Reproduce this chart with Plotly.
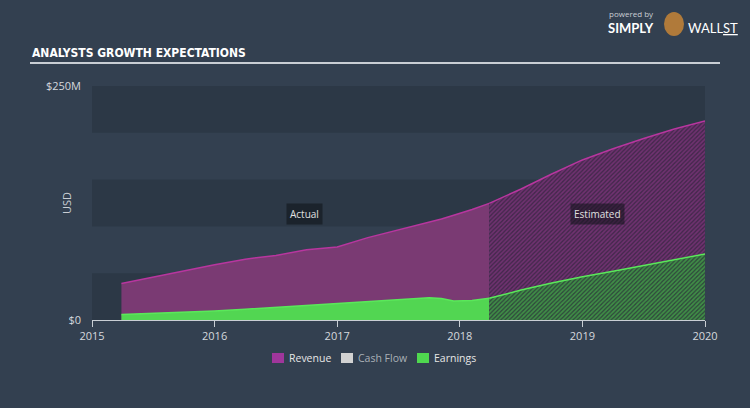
import plotly.graph_objects as go

# ---- data ----
act_x = [2015.24, 2015.5, 2015.75, 2016.0, 2016.25, 2016.5, 2016.75, 2017.0,
         2017.25, 2017.5, 2017.75, 2017.85, 2017.95, 2018.1, 2018.24]
act_revenue = [39, 46, 52, 59, 65, 69, 75, 78, 88, 96, 104, 108, 112, 118, 124.6]
act_earnings = [6, 7, 8, 9.6, 11.5, 13.5, 15.5, 17.8, 19.5, 21.5, 23.8, 23, 20.3, 20.8, 23.2]

est_x = [2018.24, 2018.5, 2018.75, 2019.0, 2019.25, 2019.5, 2019.75, 2020.0]
est_revenue = [124.6, 140, 156, 171, 183, 194, 204, 212.6]
est_earnings = [23.2, 32, 39.5, 46.3, 52, 58, 64, 70.5]

year_ticks = [2015, 2016, 2017, 2018, 2019, 2020]
year_labels = ["2015", "2016", "2017", "2018", "2019", "2020"]
y_ticks = [0, 250]
y_labels = ["$0", "$250M"]
bands = [(0, 50), (100, 150), (200, 250)]
legend_items = [("Revenue", "#a0369b", "#e6e6e6"),
                ("Cash Flow", "#d2d2d2", "#aab0b7"),
                ("Earnings", "#4fd84f", "#e6e6e6")]

BG = "#334050"
BAND = "#2c3846"
REV_FILL = "#7a3a73"
REV_LINE = "#b8369f"
EARN_FILL = "#52d652"
EARN_LINE = "#5ae85a"
FONT = "Open Sans, Lato, sans-serif"

fig = go.Figure()

fig.add_trace(go.Scatter(x=act_x, y=act_revenue, mode="lines", fill="tozeroy",
                         fillcolor=REV_FILL, line=dict(color=REV_LINE, width=1.5),
                         showlegend=False, hoverinfo="skip"))
fig.add_trace(go.Scatter(x=est_x, y=est_revenue, mode="lines", fill="tozeroy",
                         fillcolor="#4a2c50",
                         fillpattern=dict(shape="/", bgcolor="#45294d", fgcolor="#a03c98", size=3, solidity=0.5),
                         line=dict(color=REV_LINE, width=1.5),
                         showlegend=False, hoverinfo="skip"))
fig.add_trace(go.Scatter(x=act_x, y=act_earnings, mode="lines", fill="tozeroy",
                         fillcolor=EARN_FILL, line=dict(color=EARN_LINE, width=1.5),
                         showlegend=False, hoverinfo="skip"))
fig.add_trace(go.Scatter(x=est_x, y=est_earnings, mode="lines", fill="tozeroy",
                         fillcolor="#3a7a45",
                         fillpattern=dict(shape="/", bgcolor="#2f4a3c", fgcolor="#52d652", size=3, solidity=0.55),
                         line=dict(color=EARN_LINE, width=1.5),
                         showlegend=False, hoverinfo="skip"))

def px(x):
    return (x - 92) / 613

def py(y):
    return (320 - y) / 234

shapes = []
for lo, hi in bands:
    shapes.append(dict(type="rect", xref="x", yref="y", x0=2015, x1=2020, y0=lo, y1=hi,
                       fillcolor=BAND, line=dict(width=0), layer="below"))
shapes.append(dict(type="line", xref="paper", yref="paper",
                   x0=px(30), x1=px(720), y0=py(63), y1=py(63),
                   line=dict(color="#c9ced4", width=2)))
shapes.append(dict(type="circle", xref="paper", yref="paper",
                   x0=px(664), x1=px(684), y0=py(36), y1=py(12),
                   fillcolor="#b07a3a", line=dict(width=0)))

annotations = [
    dict(text="ANALYSTS GROWTH EXPECTATIONS", xref="paper", yref="paper",
         x=px(30), y=py(53), xanchor="left", yanchor="middle",
         showarrow=False, font=dict(family="DejaVu Sans Condensed, Liberation Sans Narrow, sans-serif",
                                    size=12, color="#ffffff", weight="bold")),
    dict(text="powered by", xref="paper", yref="paper", x=px(607), y=py(13),
         xanchor="left", yanchor="middle", showarrow=False,
         font=dict(family=FONT, size=8, color="#c9ced4")),
    dict(text="<b>SIMPLY</b>", xref="paper", yref="paper", x=px(606), y=py(28),
         xanchor="left", yanchor="middle", showarrow=False,
         font=dict(family="Lato, sans-serif", size=13, color="#ffffff")),
    dict(text="WALL<u>ST</u>", xref="paper", yref="paper", x=px(686), y=py(28),
         xanchor="left", yanchor="middle", showarrow=False,
         font=dict(family="Lato, sans-serif", size=13, color="#ffffff")),
    dict(text="USD", xref="paper", yref="paper", x=px(66), y=0.5, textangle=-90,
         xanchor="center", yanchor="middle", showarrow=False,
         font=dict(family=FONT, size=11, color="#c9ced4")),
    dict(text="Actual", xref="x", yref="y", x=2016.737, y=113, showarrow=False,
         bgcolor="rgba(15,18,24,0.55)", borderpad=3,
         font=dict(family=FONT, size=10, color="#e0e0e0")),
    dict(text="Estimated", xref="x", yref="y", x=2019.12, y=113, showarrow=False,
         bgcolor="rgba(15,18,24,0.55)", borderpad=3,
         font=dict(family=FONT, size=10, color="#e0e0e0")),
]

lx = [272, 341, 417]
for (name, sq, tc), x0 in zip(legend_items, lx):
    shapes.append(dict(type="rect", xref="paper", yref="paper",
                       x0=px(x0), x1=px(x0 + 12), y0=py(363), y1=py(353),
                       fillcolor=sq, line=dict(width=0)))
    annotations.append(dict(text=name, xref="paper", yref="paper",
                            x=px(x0 + 15), y=py(358),
                            xanchor="left", yanchor="middle", showarrow=False,
                            font=dict(family=FONT, size=10.5, color=tc)))

fig.update_layout(
    width=750, height=408,
    margin=dict(l=92, r=45, t=86, b=88),
    paper_bgcolor=BG, plot_bgcolor="rgba(0,0,0,0)",
    shapes=shapes, annotations=annotations,
    showlegend=False,
    xaxis=dict(range=[2015, 2020], tickvals=year_ticks, ticktext=year_labels,
               showgrid=False, zeroline=False, showline=True, linecolor="#c9ced4", linewidth=1,
               ticks="outside", ticklen=6, tickcolor="#c9ced4",
               tickfont=dict(family=FONT, size=11, color="#d5d9de"), fixedrange=True),
    yaxis=dict(range=[0, 250], tickvals=y_ticks, ticktext=y_labels,
               showgrid=False, zeroline=False, showline=False, ticks="",
               ticklabelstandoff=10,
               tickfont=dict(family=FONT, size=11, color="#d5d9de"), fixedrange=True),
)

fig.write_html("out.html")
